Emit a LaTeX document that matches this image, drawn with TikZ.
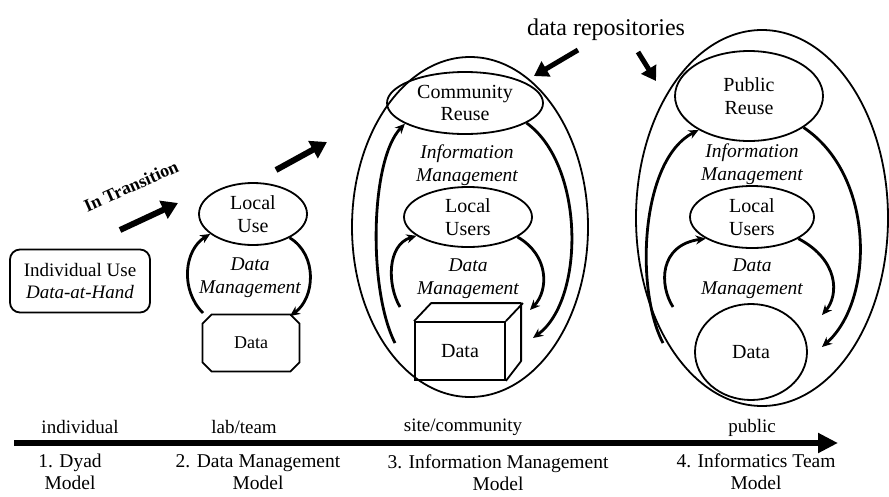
\documentclass[tikz,border=0pt]{standalone}
\usepackage{fontspec}
\setmainfont{Liberation Serif}
\usetikzlibrary{shapes.geometric,shapes.misc,arrows.meta}
\begin{document}
\begin{tikzpicture}[x=1pt,y=-1pt,
  lbl/.style={font=\fontsize{19}{22}\selectfont, align=center, inner sep=0pt},
  mdl/.style={font=\fontsize{19.5}{22}\selectfont, align=center, inner sep=0pt},
  itl/.style={font=\fontsize{19.5}{23}\selectfont\itshape, align=center, inner sep=0pt},
  ring/.style={draw, line width=1.8pt, ellipse, inner sep=0pt, align=center,
               font=\fontsize{20}{22.5}\selectfont},
  cyc/.style={line width=2.8pt, -{Stealth[length=10pt,width=9pt]}},
  fat/.style={line width=6pt, -{Triangle[length=16pt,width=19pt]}},
]
\useasboundingbox (0,0) rectangle (889,496);

% ---- stage 1: individual use
\node[draw, line width=1.8pt, rounded corners=10pt, minimum width=140pt,
      minimum height=63pt, lbl] (indiv) at (80,281)
      {Individual Use\\\textit{Data-at-Hand}};

% ---- transition arrows
\node[font=\fontsize{18}{20}\selectfont\bfseries, rotate=24, inner sep=0pt]
      (trans) at (131,186) {In Transition};
\coordinate (t1a) at (120,230); \coordinate (t1b) at (178,203);
\coordinate (t2a) at (276,170); \coordinate (t2b) at (327,142);
\draw[fat] (t1a) -- (t1b);
\draw[fat] (t2a) -- (t2b);

% ---- stage 2: data management model
\node[ring, minimum width=108pt, minimum height=62pt] (lu2) at (253,214) {Local\\Use};
\node[itl] (dm2) at (250,278) {Data\\Management};
\node[draw, line width=1.8pt, chamfered rectangle, chamfered rectangle xsep=12pt,
      minimum width=97pt, minimum height=57pt, inner sep=0pt,
      font=\fontsize{18}{20}\selectfont] (d2) at (251,343) {Data};
\coordinate (c2a) at (203,313);
\coordinate (c2b) at (290,316);
\draw[cyc] (c2a) .. controls (180,290) and (184,250) .. (lu2.205);
\draw[cyc] (lu2.327) .. controls (318,255) and (315,298) .. (c2b);

% ---- stage 3: information management model
\node[draw, line width=1.8pt, ellipse, minimum width=236pt, minimum height=340pt]
      (out3) at (470,227) {};
\node[ring, minimum width=156pt, minimum height=62pt] (cr3) at (465,103) {Community\\Reuse};
\node[itl] (im3) at (467,165) {Information\\Management};
\node[ring, minimum width=128pt, minimum height=60pt] (lus3) at (468,217) {Local\\Users};
\node[itl] (dm3) at (468,279) {Data\\Management};
\node[draw, line width=1.8pt, minimum width=90pt, minimum height=58pt, inner sep=0pt,
      font=\fontsize{20}{22}\selectfont] (cube) at (460,351) {Data};
\draw[line width=1.8pt, line join=round] (cube.north west) -- ++(17,-18) -- ++(90,0)
      -- ++(0,58) -- (cube.south east);
\draw[line width=1.8pt] (cube.north east) -- ++(17,-18);
\coordinate (c3a) at (395,343);
\coordinate (c3b) at (400,307);
\coordinate (c3c) at (533,338);
\coordinate (c3d) at (530,310);
\draw[cyc] (c3a) .. controls (368,290) and (370,160) .. (cr3.199);
\draw[cyc] (c3b) .. controls (387,285) and (387,245) .. (lus3.200);
\draw[cyc] (cr3.-18) .. controls (585,165) and (585,300) .. (c3c);
\draw[cyc] (lus3.-22) .. controls (549,255) and (549,290) .. (c3d);

% ---- stage 4: informatics team model
\node[draw, line width=1.8pt, ellipse, minimum width=252pt, minimum height=376pt]
      (out4) at (762,218) {};
\node[ring, minimum width=148pt, minimum height=90pt] (pr4) at (749,96) {Public\\Reuse};
\node[itl] (im4) at (752,164) {Information\\Management};
\node[ring, minimum width=124pt, minimum height=62pt] (lu4) at (752,217) {Local\\Users};
\node[itl] (dm4) at (752,279) {Data\\Management};
\node[ring, minimum width=112pt, minimum height=96pt] (d4) at (751,352) {Data};
\coordinate (c4a) at (663,343);
\coordinate (c4b) at (673,307);
\coordinate (c4c) at (822,347);
\coordinate (c4d) at (822,315);
\draw[cyc] (c4a) .. controls (635,290) and (640,160) .. (pr4.214);
\draw[cyc] (c4b) .. controls (659,285) and (659,245) .. (lu4.205);
\draw[cyc] (pr4.-30) .. controls (875,175) and (875,300) .. (c4c);
\draw[cyc] (lu4.-25) .. controls (839,260) and (839,295) .. (c4d);

% ---- repositories
\node[font=\fontsize{24}{26}\selectfont, inner sep=0pt] (repo) at (606,30) {data repositories};
\coordinate (r1a) at (578,50); \coordinate (r1b) at (534,76);
\coordinate (r2a) at (638,52); \coordinate (r2b) at (656,81);
\draw[line width=5pt, -{Triangle[length=14pt,width=17pt]}] (r1a) -- (r1b);
\draw[line width=5pt, -{Triangle[length=14pt,width=17pt]}] (r2a) -- (r2b);

% ---- scale axis
\coordinate (ax0) at (14,443); \coordinate (ax1) at (838,443);
\draw[line width=6pt, -{Triangle[length=20pt,width=19pt]}] (ax0) -- (ax1);
\node[lbl] (s1) at (80,427) {individual};
\node[lbl] (s2) at (244,427) {lab/team};
\node[lbl] (s3) at (463,427) {site/community};
\node[lbl] (s4) at (752,428) {public};
\node[mdl] (m1) at (70,472) {1. Dyad\\Model};
\node[mdl] (m2) at (258,472) {2. Data Management\\Model};
\node[mdl] (m3) at (498,473) {3. Information Management\\Model};
\node[mdl] (m4) at (756,472) {4. Informatics Team\\Model};
\end{tikzpicture}
\end{document}
